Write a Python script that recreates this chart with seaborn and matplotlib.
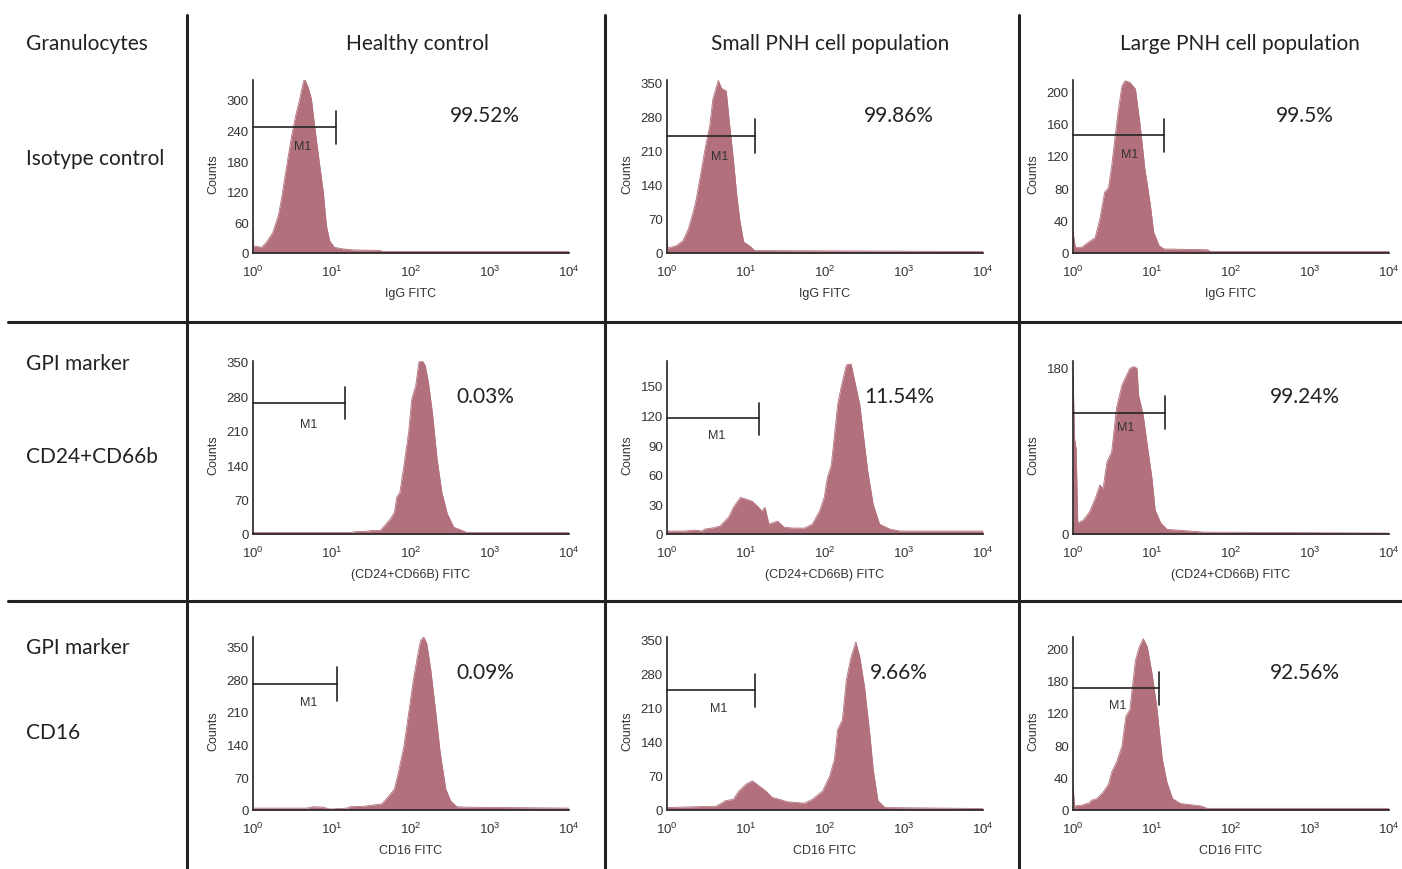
import numpy as np
import matplotlib
matplotlib.use('Agg')
import matplotlib.pyplot as plt
from matplotlib.lines import Line2D
import seaborn as sns

# Datos: posiciones en décadas (log10 de la fluorescencia) y cuentas
hc_iso_log = [0.00, 0.01, 0.04, 0.11, 0.17, 0.25, 0.32, 0.36, 0.40, 0.44, 0.49, 0.54, 0.59, 0.63,
              0.65, 0.70, 0.74, 0.78, 0.84, 0.89, 0.93, 0.97, 1.03, 1.14, 1.27, 1.60, 1.65, 4.00]
hc_iso_counts = [37, 12, 13, 11, 21, 40, 73, 106, 145, 184, 230, 269, 301, 330,
                 342, 324, 301, 249, 177, 119, 53, 24, 11, 8, 6, 5, 3, 3]

spnh_iso_log = [0.00, 0.01, 0.12, 0.20, 0.27, 0.33, 0.37, 0.43, 0.48, 0.54, 0.58, 0.62, 0.65,
                0.69, 0.75, 0.79, 0.84, 0.88, 0.92, 0.97, 1.05, 1.11, 4.00]
spnh_iso_counts = [32, 10, 15, 25, 49, 83, 110, 165, 212, 260, 315, 338, 354,
                   338, 332, 267, 192, 124, 69, 23, 14, 5, 3]

lpnh_iso_log = [0.00, 0.03, 0.11, 0.19, 0.28, 0.34, 0.40, 0.45, 0.49, 0.53, 0.57, 0.62, 0.66,
                0.72, 0.79, 0.85, 0.91, 0.98, 1.02, 1.09, 1.15, 1.70, 1.74, 4.00]
lpnh_iso_counts = [26, 7, 7, 13, 19, 42, 75, 81, 108, 141, 174, 207, 213,
                   211, 203, 158, 104, 59, 26, 9, 5, 4, 2, 2]

hc_cd24_log = [0.00, 1.23, 1.31, 1.40, 1.50, 1.61, 1.65, 1.74, 1.79, 1.82, 1.86, 1.91, 1.97,
               2.01, 2.06, 2.10, 2.14, 2.18, 2.22, 2.27, 2.33, 2.39, 2.46, 2.54, 2.65, 2.71, 4.00]
hc_cd24_counts = [3, 3, 5, 5, 7, 7, 14, 31, 44, 75, 85, 139, 207,
                  275, 302, 350, 353, 343, 309, 248, 153, 85, 41, 14, 7, 3, 3]

spnh_cd24_log = [0.00, 0.23, 0.35, 0.44, 0.48, 0.57, 0.67, 0.78, 0.84, 0.93, 1.01, 1.08, 1.16,
                 1.20, 1.24, 1.29, 1.40, 1.48, 1.59, 1.74, 1.84, 1.93, 1.99, 2.03, 2.08, 2.12,
                 2.16, 2.20, 2.27, 2.33, 2.37, 2.44, 2.48, 2.54, 2.61, 2.69, 2.82, 2.95, 4.00]
spnh_cd24_counts = [3, 3, 4, 3, 5, 6, 8, 17, 27, 37, 35, 33, 27,
                    23, 27, 10, 13, 7, 6, 6, 10, 23, 37, 57, 70, 100,
                    131, 147, 171, 172, 157, 131, 104, 64, 30, 10, 5, 3, 3]

lpnh_cd24_log = [0.00, 0.02, 0.04, 0.06, 0.13, 0.21, 0.28, 0.34, 0.38, 0.43, 0.49, 0.55, 0.62,
                 0.68, 0.72, 0.77, 0.81, 0.83, 0.89, 0.94, 1.00, 1.04, 1.11, 1.19, 1.36, 1.66, 4.00]
lpnh_cd24_counts = [175, 103, 92, 12, 15, 24, 38, 53, 49, 78, 89, 136, 161,
                    172, 179, 181, 179, 150, 128, 96, 60, 26, 12, 5, 4, 2, 1]

hc_cd16_log = [0.00, 0.68, 0.76, 0.89, 0.97, 1.19, 1.23, 1.40, 1.63, 1.72, 1.79, 1.84, 1.91,
               1.97, 2.03, 2.08, 2.12, 2.16, 2.20, 2.25, 2.31, 2.37, 2.44, 2.50, 2.58, 2.71, 4.00]
hc_cd16_counts = [4, 4, 7, 6, 2, 4, 7, 8, 13, 30, 45, 80, 136,
                  207, 278, 327, 362, 370, 356, 300, 214, 122, 45, 20, 7, 6, 4]

spnh_cd16_log = [0.00, 0.42, 0.61, 0.67, 0.74, 0.84, 0.91, 1.00, 1.08, 1.16, 1.25, 1.33, 1.42,
                 1.52, 1.74, 1.84, 1.97, 2.06, 2.12, 2.16, 2.22, 2.27, 2.33, 2.39, 2.44, 2.50,
                 2.57, 2.61, 2.67, 2.76, 4.00]
spnh_cd16_counts = [5, 7, 7, 12, 19, 22, 39, 53, 60, 50, 39, 26, 22,
                    17, 14, 22, 39, 70, 104, 165, 185, 267, 314, 345, 314, 253,
                    151, 83, 19, 5, 3]

lpnh_cd16_log = [0.00, 0.02, 0.11, 0.21, 0.23, 0.30, 0.38, 0.45, 0.49, 0.55, 0.62, 0.67, 0.72,
                 0.79, 0.84, 0.89, 0.94, 1.00, 1.06, 1.13, 1.19, 1.26, 1.36, 1.62, 1.70, 4.00]
lpnh_cd16_counts = [30, 5, 6, 9, 12, 14, 22, 32, 47, 59, 79, 116, 124,
                    185, 202, 212, 202, 169, 128, 63, 34, 14, 8, 5, 2, 2]

# Porcentajes y ejes
percentages = ['99.52%', '99.86%', '99.5%', '0.03%', '11.54%', '99.24%', '0.09%', '9.66%', '92.56%']
column_titles = ['Healthy control', 'Small PNH cell population', 'Large PNH cell population']
x_labels = ['IgG FITC', '(CD24+CD66B) FITC', 'CD16 FITC']
y_max = [339, 355, 214, 352, 175, 187, 370, 355, 214]
y_ticks = [[0, 60, 120, 180, 240, 300], [0, 70, 140, 210, 280, 350], [0, 40, 80, 120, 160, 200],
           [0, 70, 140, 210, 280, 350], [0, 30, 60, 90, 120, 150], [0, 180],
           [0, 70, 140, 210, 280, 350], [0, 70, 140, 210, 280, 350], [0, 40, 80, 120, 160, 200]]
y_tick_labels = [None, None, None, None, None, None, None, None,
                 ['0', '40', '80', '120', '180', '200']]

# Marcador M1: fin (décadas), altura de la línea, barra vertical (abajo, arriba), etiqueta (décadas, cuentas)
gate_end = [1.055, 1.12, 1.15, 1.16, 1.16, 1.16, 1.06, 1.11, 1.085]
gate_y = [246, 240, 146, 267, 117, 131, 269, 246, 151]
gate_bar = [(213, 278), (206, 274), (125, 166), (233, 300), (100, 133), (113, 149),
            (234, 305), (212, 280), (130, 171)]
m1_pos = [(0.63, 210), (0.67, 200), (0.72, 122), (0.70, 224), (0.63, 100), (0.67, 116),
          (0.70, 232), (0.65, 209), (0.57, 130)]

panel_logs = [hc_iso_log, spnh_iso_log, lpnh_iso_log, hc_cd24_log, spnh_cd24_log,
              lpnh_cd24_log, hc_cd16_log, spnh_cd16_log, lpnh_cd16_log]
panel_counts = [hc_iso_counts, spnh_iso_counts, lpnh_iso_counts, hc_cd24_counts, spnh_cd24_counts,
                lpnh_cd24_counts, hc_cd16_counts, spnh_cd16_counts, lpnh_cd16_counts]

sns.set_style('white')
plt.rcParams['font.family'] = ['Liberation Sans', 'DejaVu Sans']
plt.rcParams['mathtext.default'] = 'regular'

FILL = '#b2707c'
INK = '#222222'
W, H = 1402, 870
fig = plt.figure(figsize=(W / 100, H / 100), dpi=100)

col_left = [253, 667, 1073]
row_bottom = [254, 535, 811]
AX_W, AX_H = 316, 173

for i in range(9):
    r, c = divmod(i, 3)
    ax = fig.add_axes([col_left[c] / W, 1 - row_bottom[r] / H, AX_W / W, AX_H / H])
    x = 10 ** np.array(panel_logs[i])
    y = np.array(panel_counts[i])
    ax.fill_between(x, y, color=FILL, linewidth=0, zorder=1)
    sns.lineplot(x=x, y=y, ax=ax, color=FILL, linewidth=0.6, zorder=1)
    ax.set_xscale('log')
    ax.set_xlim(1, 1e4)
    ax.set_ylim(0, y_max[i])
    ax.set_yticks(y_ticks[i])
    if y_tick_labels[i] is not None:
        ax.set_yticklabels(y_tick_labels[i])
    ax.tick_params(axis='both', which='both', length=0, labelsize=9.5, colors='#333333')
    ax.tick_params(axis='x', pad=8)
    ax.tick_params(axis='y', pad=3)
    for side in ['top', 'right']:
        ax.spines[side].set_visible(False)
    for side in ['left', 'bottom']:
        ax.spines[side].set_color(INK)
        ax.spines[side].set_linewidth(1.2)
    ax.set_xlabel(x_labels[r], fontsize=9, color='#333333', va='center')
    ax.xaxis.set_label_coords(0.5, -0.231)
    ax.set_ylabel('Counts', fontsize=9, color='#333333', va='center')
    ax.yaxis.set_label_coords(-0.125, 0.46)

    # Marcador M1
    gx = 10 ** gate_end[i]
    ax.plot([1, gx], [gate_y[i], gate_y[i]], color=INK, linewidth=1.2, zorder=3, clip_on=False)
    ax.plot([gx, gx], gate_bar[i], color=INK, linewidth=1.2, zorder=3, clip_on=False)
    ax.text(10 ** m1_pos[i][0], m1_pos[i][1], 'M1', fontsize=9, color='#333333',
            ha='center', va='center', zorder=4)

    ax.text(0.734, 0.80, percentages[i], transform=ax.transAxes, fontsize=15,
            family=['Lato', 'DejaVu Sans'], ha='center', va='center', color='#222222')

# Títulos
head = dict(fontsize=15, family=['Lato', 'DejaVu Sans'], color='#222222', va='center')
fig.text(26 / W, 1 - 44 / H, 'Granulocytes', ha='left', **head)
for c, t in enumerate(column_titles):
    fig.text([418, 830, 1240][c] / W, 1 - 44 / H, t, ha='center', **head)
fig.text(26 / W, 1 - 159 / H, 'Isotype control', ha='left', **head)
fig.text(26 / W, 1 - 364 / H, 'GPI marker', ha='left', **head)
fig.text(26 / W, 1 - 457 / H, 'CD24+CD66b', ha='left', **head)
fig.text(26 / W, 1 - 648 / H, 'GPI marker', ha='left', **head)
fig.text(26 / W, 1 - 733 / H, 'CD16', ha='left', **head)

# Líneas de la rejilla
for xv in [187, 605, 1019]:
    fig.add_artist(Line2D([xv / W, xv / W], [1 - 16 / H, 0], color=INK, linewidth=2.2))
for yv in [323, 602]:
    fig.add_artist(Line2D([8 / W, 1], [1 - yv / H, 1 - yv / H], color=INK, linewidth=2.2))

fig.savefig('out.png', dpi=100)
